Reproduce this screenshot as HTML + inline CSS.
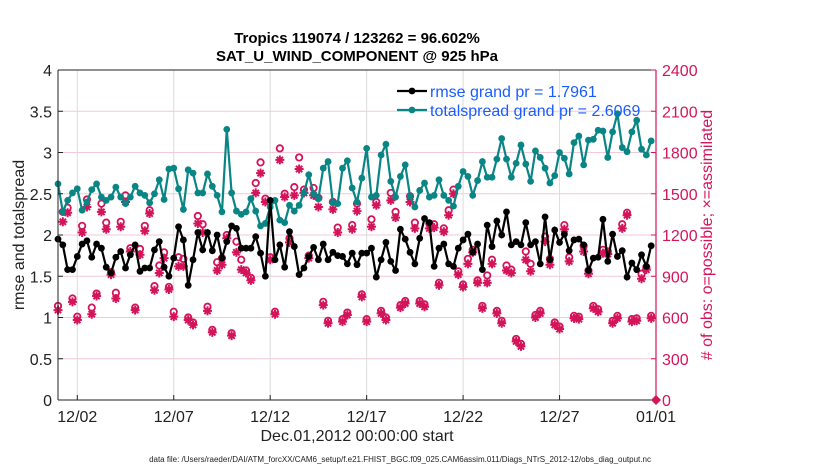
<!DOCTYPE html>
<html><head><meta charset="utf-8"><style>
body{margin:0;background:#fff;}
svg{display:block;font-family:"Liberation Sans",sans-serif;}
</style></head><body>
<svg id="c" width="830" height="470"></svg>
<script>
const spread=[2.62,2.28,2.42,2.51,2.56,2.30,2.40,2.55,2.62,2.46,2.42,2.46,2.58,2.46,2.38,2.46,2.59,2.51,2.48,2.39,2.50,2.67,2.43,2.80,2.81,2.56,2.31,2.79,2.75,2.51,
2.51,2.74,2.59,2.48,2.28,3.28,2.51,2.29,2.25,2.28,2.44,2.29,2.11,2.14,2.34,2.42,2.18,2.15,2.36,2.29,2.36,2.51,2.73,2.50,2.44,2.81,2.89,2.39,2.38,2.81,2.90,
2.57,2.40,2.69,3.05,2.46,2.48,2.97,3.10,2.65,2.46,2.71,2.85,2.47,2.34,2.54,2.63,2.46,2.48,2.67,2.48,2.42,2.35,2.59,2.77,2.71,2.48,2.66,2.89,2.70,2.70,2.92,3.17,
2.92,2.70,2.87,3.09,2.86,2.65,3.02,2.94,2.81,2.63,2.72,3.00,2.93,2.74,3.12,3.20,2.85,3.15,3.16,3.27,3.26,2.94,3.25,3.47,3.06,3.01,3.25,3.39,3.04,2.97,3.14];
const rmse=[1.95,1.88,1.58,1.58,1.74,1.89,1.93,1.73,1.89,1.84,1.61,1.54,1.73,1.80,1.60,1.76,1.88,1.56,1.60,1.60,1.82,1.92,1.61,1.50,1.72,2.10,1.94,1.39,1.70,2.03,
1.82,2.03,1.81,2.00,1.72,1.92,2.11,2.08,1.84,1.84,1.84,1.98,1.78,1.50,2.42,1.70,1.88,1.61,2.04,1.86,1.52,1.60,1.74,1.85,1.70,1.89,1.70,1.79,1.75,1.74,1.65,
1.78,1.64,1.78,1.78,1.84,1.49,1.70,1.91,1.68,1.57,2.07,1.95,1.79,1.65,1.96,2.20,2.15,1.62,1.84,1.89,1.65,1.62,1.84,1.94,2.01,1.79,1.89,1.58,2.12,1.86,2.17,2.00,
2.28,1.88,1.92,1.88,2.15,1.88,1.92,1.65,2.22,1.70,2.06,1.91,2.01,1.81,1.94,1.95,1.88,1.57,1.72,1.73,2.19,1.68,2.01,1.74,1.81,1.49,1.66,1.58,1.76,1.62,1.87];
const assimilated=[654,1296,1362,714,582,1218,1404,624,756,1368,1242,912,738,1260,1440,1080,654,1056,1230,1356,798,924,1032,804,606,972,972,582,546,1284,
1218,648,492,942,984,1176,468,1074,948,924,870,1506,1650,1440,1020,624,1746,1476,1146,1488,1680,1506,1032,1488,1404,690,558,1386,1218,570,618,
1242,1374,750,570,1260,1416,630,582,1452,1326,672,702,1440,1248,702,678,1248,1254,834,1224,1344,1500,912,822,990,1074,852,666,852,990,630,558,
942,924,426,390,1020,936,600,630,1152,984,546,516,1242,1008,594,588,1080,918,666,642,1068,1062,558,594,1248,1344,570,576,882,948,594];
const possible=[684,1368,1398,738,606,1266,1458,672,774,1428,1290,930,780,1296,1488,1104,672,1098,1266,1380,828,978,1074,822,642,1038,1026,600,564,1338,
1278,678,510,1002,1032,1200,486,1152,1020,942,888,1578,1728,1464,1038,642,1830,1500,1176,1548,1764,1530,1050,1542,1470,714,576,1440,1254,588,636,
1272,1428,768,588,1314,1440,648,600,1506,1368,690,720,1482,1290,720,696,1284,1278,852,1248,1380,1530,936,840,1026,1092,870,684,906,1020,648,576,
978,948,444,408,1080,990,618,648,1188,1026,564,534,1272,1038,612,606,1122,942,684,660,1092,1080,576,612,1278,1362,588,594,918,966,612];
const leftTicks=[0,0.5,1,1.5,2,2.5,3,3.5,4];
const leftTickLabels=["0","0.5","1","1.5","2","2.5","3","3.5","4"];
const rightTicks=[0,300,600,900,1200,1500,1800,2100,2400];
const xTickDays=[1,6,11,16,21,26,31];
const xTickLabels=["12/02","12/07","12/12","12/17","12/22","12/27","01/01"];

const L=58,R=656,T=70,B=400;
const X=d=>L+(R-L)*d/31;
const Y=v=>B-(B-T)*v/4;
const YR=v=>B-(B-T)*v/2400;
const svg=document.getElementById('c');
const NS='http://www.w3.org/2000/svg';
function mk(tag,at,parent){const e=document.createElementNS(NS,tag);for(const k in at)e.setAttribute(k,at[k]);(parent||svg).appendChild(e);return e;}
const TEAL='#0a8585',MAG='#d4145a';

const grid=mk('g',{});


leftTicks.forEach(v=>{const l=mk('line',{x1:L,x2:R,y1:Y(v),y2:Y(v),stroke:'#f2c9d9','stroke-width':1},grid);

});
xTickDays.forEach(d=>{const l=mk('line',{x1:X(d),x2:X(d),y1:T,y2:B,stroke:'#dcdcdc','stroke-width':1},grid);

});

const obs=mk('g',{});


possible.forEach((v,i)=>{const c=mk('circle',{cx:X(i*0.25),cy:YR(v),r:3.2,fill:'none',stroke:MAG,'stroke-width':1.8},obs);

});
assimilated.forEach((v,i)=>{const x=X(i*0.25),y=YR(v),s=4.5;
const p=mk('path',{d:`M${x-s} ${y}H${x+s}M${x} ${y-s}V${y+s}M${x-s*0.7} ${y-s*0.7}L${x+s*0.7} ${y+s*0.7}M${x-s*0.7} ${y+s*0.7}L${x+s*0.7} ${y-s*0.7}`,stroke:MAG,'stroke-width':2},obs);

});

function series(arr,col,name){
const g=mk('g',{});


const pts=arr.map((v,i)=>X(i*0.25)+','+Y(v)).join(' ');
const pl=mk('polyline',{points:pts,fill:'none',stroke:col,'stroke-width':2.2},g);


arr.forEach((v,i)=>{const c=mk('circle',{cx:X(i*0.25),cy:Y(v),r:3.4,fill:col},g);

});
}
series(spread,TEAL,'totalspread-series');
series(rmse,'#000','rmse-series');

const ax=mk('g',{});


mk('line',{x1:L,x2:R,y1:T,y2:T,stroke:'#222','stroke-width':1},ax);
mk('line',{x1:L,x2:R,y1:B,y2:B,stroke:'#222','stroke-width':1},ax);
mk('line',{x1:L,x2:L,y1:T,y2:B,stroke:'#222','stroke-width':1},ax);
mk('line',{x1:R,x2:R,y1:T,y2:B,stroke:MAG,'stroke-width':1.2},ax);
leftTicks.forEach((v,i)=>{mk('line',{x1:L,x2:L+5,y1:Y(v),y2:Y(v),stroke:'#222'},ax);
const t=mk('text',{x:L-6,y:Y(v)+6,'text-anchor':'end','font-size':16,fill:'#222'},ax);t.textContent=leftTickLabels[i];

});
rightTicks.forEach(v=>{mk('line',{x1:R-5,x2:R,y1:YR(v),y2:YR(v),stroke:MAG},ax);
const t=mk('text',{x:R+6,y:YR(v)+6,'font-size':16,fill:MAG},ax);t.textContent=String(v);

});
xTickDays.forEach((d,i)=>{mk('line',{x1:X(d),x2:X(d),y1:B,y2:B-5,stroke:'#222'},ax);
const t=mk('text',{x:X(d),y:B+22,'text-anchor':'middle','font-size':16,fill:'#222'},ax);t.textContent=xTickLabels[i];

});
mk('path',{d:`M${R} ${B-5}L${R+5} ${B}L${R} ${B+5}L${R-5} ${B}Z`,fill:MAG},ax);
</script>
<svg width="830" height="470" style="position:absolute;left:0;top:0;pointer-events:none">
<g font-family="Liberation Sans, sans-serif">
<text x="357" y="43" text-anchor="middle" font-size="15" font-weight="bold" fill="#000">Tropics 119074 / 123262 = 96.602%</text>
<text x="357" y="61" text-anchor="middle" font-size="15" font-weight="bold" fill="#000">SAT_U_WIND_COMPONENT @ 925 hPa</text>
<text transform="translate(24,235) rotate(-90)" text-anchor="middle" font-size="16" fill="#222">rmse and totalspread</text>
<text transform="translate(712,235) rotate(-90)" text-anchor="middle" font-size="16" fill="#d4145a"># of obs: o=possible; ×=assimilated</text>
<text x="357" y="441" text-anchor="middle" font-size="16" fill="#222">Dec.01,2012 00:00:00 start</text>
<text x="400" y="462" text-anchor="middle" font-size="8" fill="#222">data file: /Users/raeder/DAI/ATM_forcXX/CAM6_setup/f.e21.FHIST_BGC.f09_025.CAM6assim.011/Diags_NTrS_2012-12/obs_diag_output.nc</text>
<g>
<line x1="397" x2="427" y1="91" y2="91" stroke="#000" stroke-width="2.2"/><circle cx="412" cy="91" r="3.4" fill="#000"/>
<text x="430" y="97" font-size="16" fill="#1a5cff">rmse grand pr = 1.7961</text></g>
<g>
<line x1="397" x2="427" y1="110" y2="110" stroke="#0a8585" stroke-width="2.2"/><circle cx="412" cy="110" r="3.4" fill="#0a8585"/>
<text x="430" y="116" font-size="16" fill="#1a5cff">totalspread grand pr = 2.6069</text></g>
</g></svg>
</body></html>
